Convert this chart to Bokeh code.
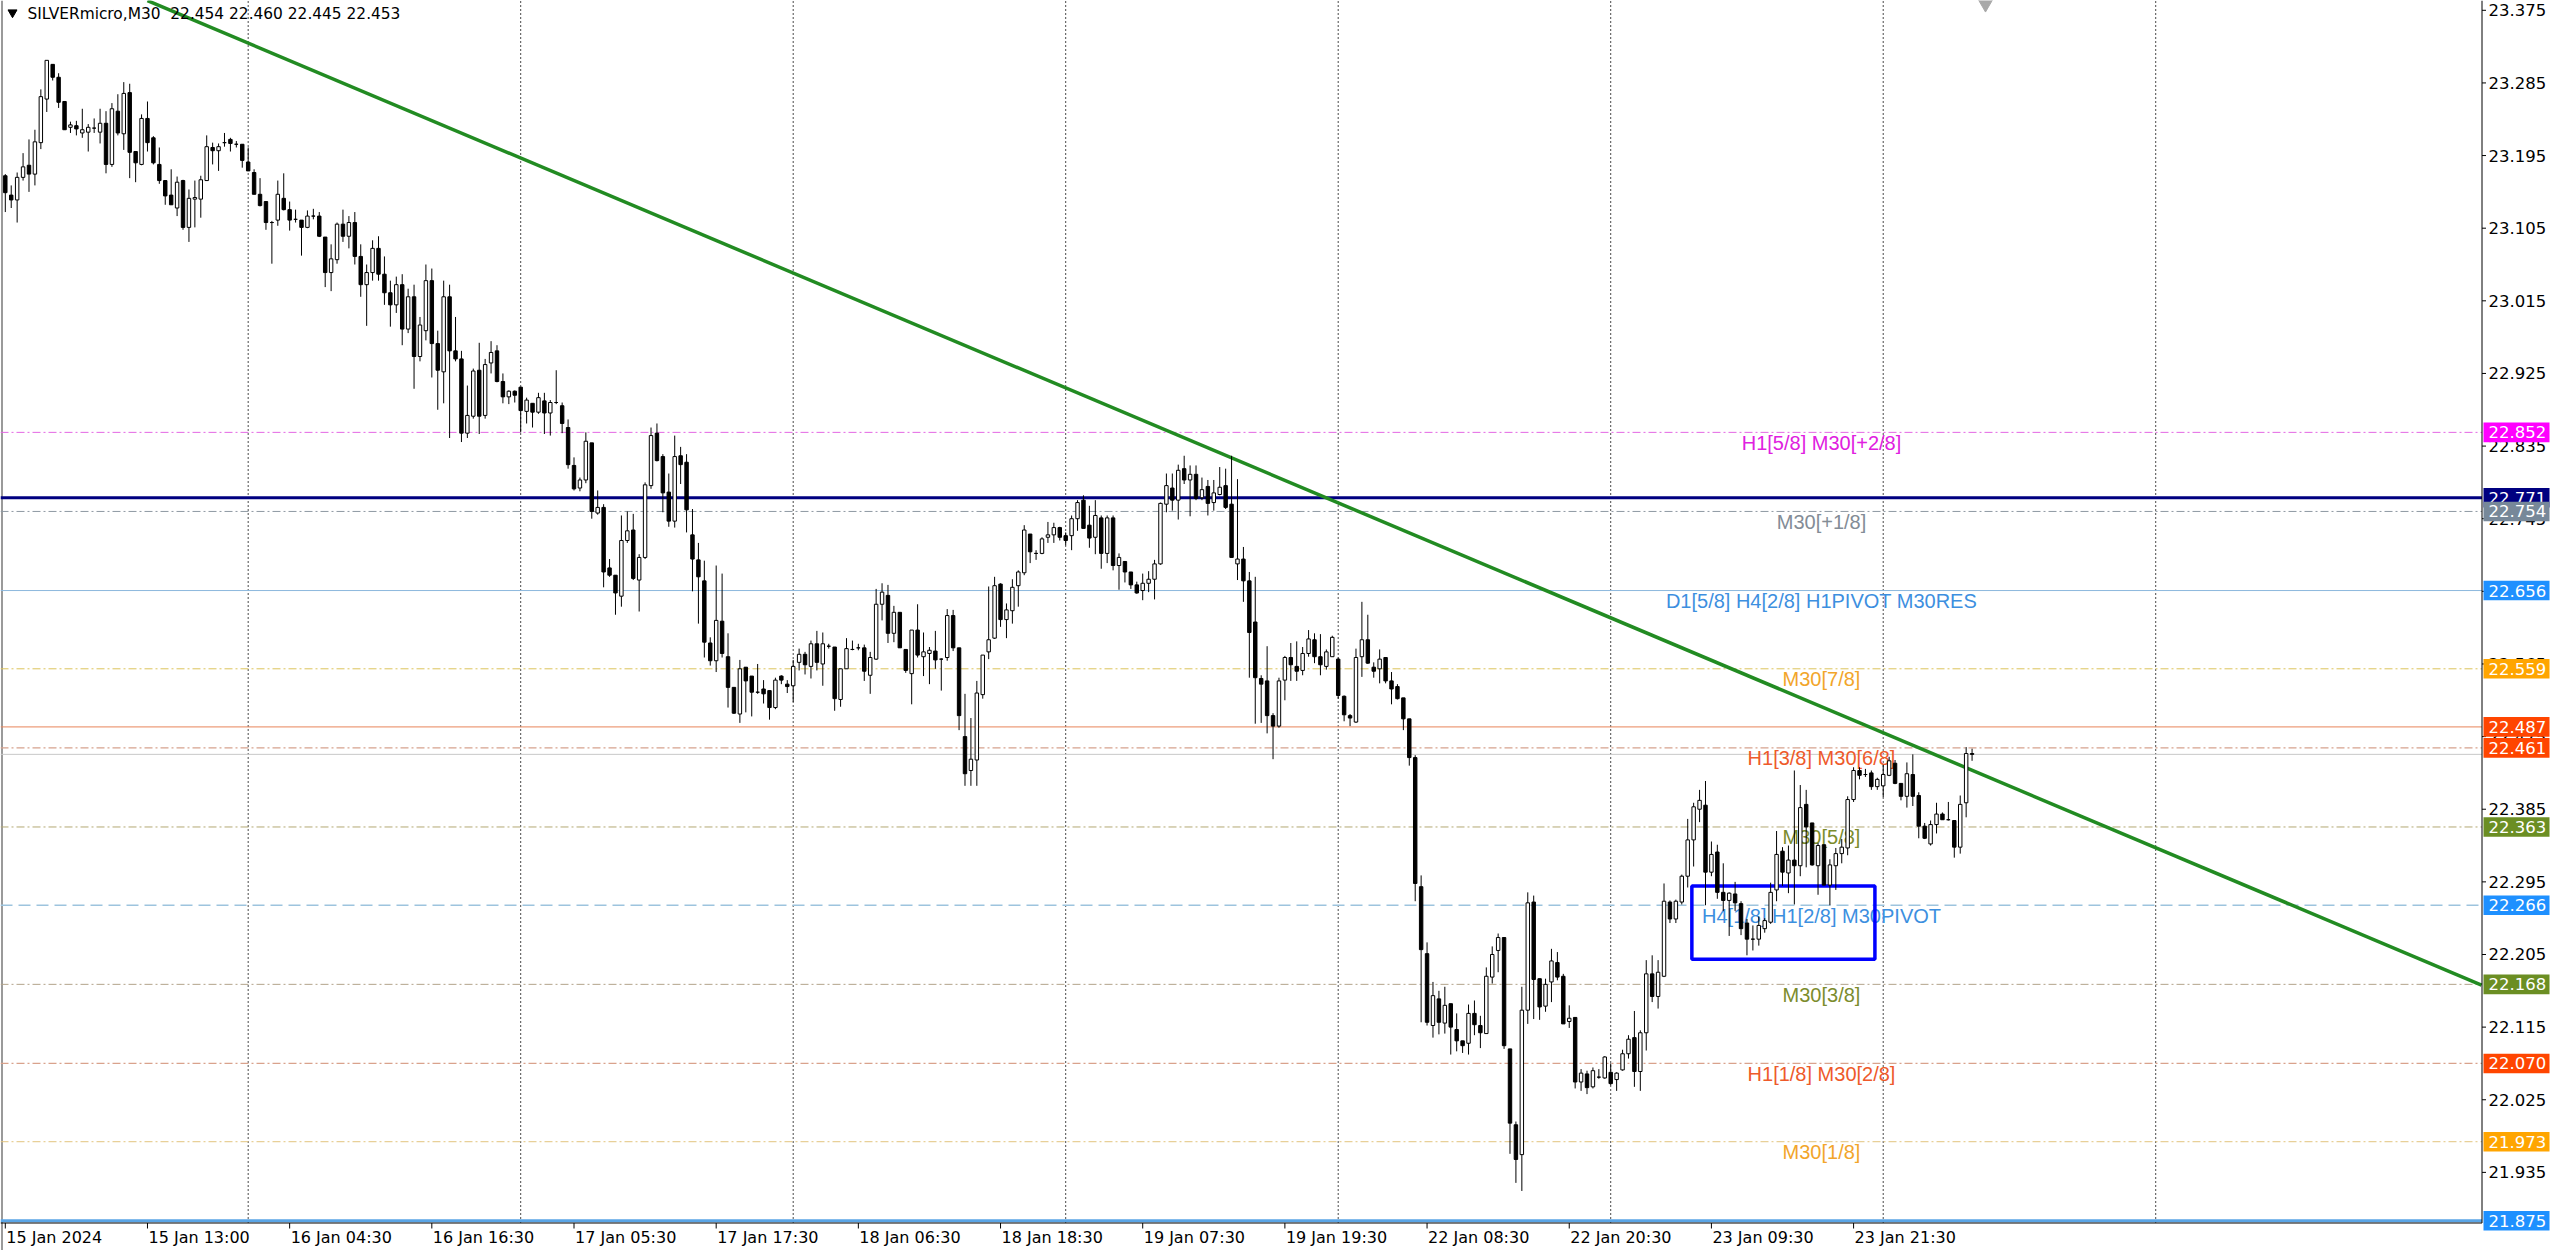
from bokeh.plotting import figure
from bokeh.models import Range1d, ColumnDataSource
from bokeh.core.properties import value
from bokeh.embed import file_html
from bokeh.resources import INLINE

# ---------------- data (SILVERmicro, M30) ----------------
opens = [23.170, 23.146, 23.140, 23.168, 23.183, 23.172, 23.211, 23.265, 23.308, 23.292,
         23.262, 23.230, 23.232, 23.223, 23.224, 23.229, 23.224, 23.235, 23.184, 23.250,
         23.222, 23.273, 23.200, 23.184, 23.241, 23.217, 23.184, 23.164, 23.146, 23.130,
         23.164, 23.106, 23.141, 23.141, 23.164, 23.205, 23.201, 23.211, 23.215, 23.209,
         23.209, 23.187, 23.174, 23.147, 23.138, 23.112, 23.115, 23.142, 23.128, 23.116,
         23.115, 23.106, 23.120, 23.120, 23.094, 23.050, 23.066, 23.110, 23.095, 23.112,
         23.070, 23.035, 23.050, 23.080, 23.048, 23.025, 23.010, 23.035, 22.980, 23.020,
         22.946, 22.978, 23.040, 22.962, 22.927, 23.020, 22.953, 22.943, 22.851, 22.872,
         22.929, 22.873, 22.938, 22.953, 22.915, 22.896, 22.903, 22.908, 22.878, 22.888,
         22.877, 22.891, 22.876, 22.889, 22.885, 22.858, 22.811, 22.783, 22.793, 22.839,
         22.752, 22.759, 22.684, 22.675, 22.649, 22.718, 22.731, 22.669, 22.697, 22.786,
         22.851, 22.822, 22.778, 22.742, 22.823, 22.815, 22.725, 22.694, 22.668, 22.591,
         22.569, 22.618, 22.574, 22.536, 22.503, 22.561, 22.550, 22.530, 22.534, 22.532,
         22.511, 22.550, 22.540, 22.538, 22.567, 22.577, 22.562, 22.590, 22.565, 22.587,
         22.586, 22.521, 22.559, 22.583, 22.585, 22.585, 22.551, 22.571, 22.639, 22.650,
         22.603, 22.629, 22.583, 22.553, 22.607, 22.574, 22.578, 22.581, 22.571, 22.573,
         22.625, 22.585, 22.475, 22.433, 22.446, 22.527, 22.580, 22.597, 22.664, 22.620,
         22.631, 22.662, 22.678, 22.726, 22.702, 22.702, 22.722, 22.725, 22.734, 22.724,
         22.724, 22.745, 22.768, 22.737, 22.722, 22.746, 22.702, 22.746, 22.687, 22.692,
         22.679, 22.663, 22.656, 22.665, 22.670, 22.689, 22.763, 22.783, 22.768, 22.807,
         22.793, 22.800, 22.771, 22.785, 22.765, 22.775, 22.786, 22.763, 22.689, 22.695,
         22.668, 22.617, 22.547, 22.544, 22.501, 22.488, 22.545, 22.573, 22.562, 22.557,
         22.578, 22.595, 22.574, 22.562, 22.574, 22.571, 22.525, 22.501, 22.493, 22.574,
         22.595, 22.561, 22.559, 22.573, 22.544, 22.537, 22.523, 22.497, 22.449, 22.289,
         22.206, 22.117, 22.150, 22.120, 22.144, 22.112, 22.098, 22.095, 22.132, 22.117,
         22.107, 22.177, 22.210, 22.226, 22.088, 21.994, 21.957, 22.136, 22.270, 22.175,
         22.141, 22.171, 22.195, 22.178, 22.122, 22.127, 22.047, 22.057, 22.041, 22.053,
         22.052, 22.059, 22.050, 22.062, 22.082, 22.102, 22.060, 22.108, 22.181, 22.153,
         22.178, 22.270, 22.249, 22.270, 22.302, 22.347, 22.385, 22.390, 22.307, 22.332,
         22.282, 22.272, 22.280, 22.268, 22.244, 22.224, 22.224, 22.237, 22.245, 22.285,
         22.333, 22.306, 22.322, 22.315, 22.391, 22.368, 22.315, 22.341, 22.291, 22.315,
         22.330, 22.337, 22.397, 22.433, 22.428, 22.430, 22.413, 22.414, 22.427, 22.442,
         22.417, 22.401, 22.428, 22.402, 22.364, 22.342, 22.366, 22.379, 22.372, 22.371,
         22.338, 22.393, 22.454]
highs = [23.172, 23.158, 23.174, 23.198, 23.215, 23.227, 23.277, 23.313, 23.308, 23.297,
         23.262, 23.237, 23.238, 23.253, 23.234, 23.241, 23.253, 23.250, 23.260, 23.271,
         23.286, 23.284, 23.200, 23.246, 23.262, 23.219, 23.205, 23.164, 23.178, 23.169,
         23.165, 23.153, 23.164, 23.170, 23.220, 23.211, 23.210, 23.223, 23.217, 23.213,
         23.209, 23.205, 23.178, 23.167, 23.138, 23.114, 23.164, 23.173, 23.138, 23.128,
         23.115, 23.127, 23.129, 23.125, 23.094, 23.085, 23.112, 23.128, 23.120, 23.125,
         23.085, 23.060, 23.090, 23.095, 23.070, 23.040, 23.045, 23.048, 23.030, 23.035,
         22.995, 23.060, 23.055, 22.978, 23.040, 23.035, 22.995, 22.953, 22.910, 22.931,
         22.963, 22.943, 22.965, 22.960, 22.925, 22.904, 22.904, 22.908, 22.895, 22.888,
         22.901, 22.901, 22.892, 22.929, 22.889, 22.868, 22.821, 22.796, 22.852, 22.839,
         22.780, 22.763, 22.695, 22.675, 22.749, 22.754, 22.751, 22.701, 22.790, 22.858,
         22.863, 22.825, 22.801, 22.848, 22.834, 22.825, 22.757, 22.715, 22.693, 22.598,
         22.687, 22.677, 22.603, 22.536, 22.570, 22.561, 22.550, 22.565, 22.545, 22.532,
         22.548, 22.551, 22.545, 22.570, 22.584, 22.580, 22.594, 22.606, 22.604, 22.590,
         22.586, 22.559, 22.597, 22.594, 22.590, 22.589, 22.580, 22.658, 22.665, 22.663,
         22.637, 22.629, 22.583, 22.607, 22.639, 22.604, 22.586, 22.606, 22.572, 22.633,
         22.632, 22.585, 22.528, 22.498, 22.544, 22.576, 22.661, 22.673, 22.665, 22.640,
         22.670, 22.681, 22.737, 22.726, 22.706, 22.722, 22.741, 22.740, 22.735, 22.728,
         22.749, 22.768, 22.774, 22.761, 22.768, 22.749, 22.749, 22.749, 22.702, 22.692,
         22.679, 22.667, 22.677, 22.680, 22.694, 22.765, 22.801, 22.801, 22.812, 22.823,
         22.811, 22.811, 22.796, 22.793, 22.793, 22.809, 22.807, 22.823, 22.794, 22.710,
         22.679, 22.673, 22.551, 22.587, 22.504, 22.548, 22.575, 22.591, 22.593, 22.586,
         22.607, 22.603, 22.602, 22.583, 22.600, 22.573, 22.526, 22.503, 22.584, 22.642,
         22.626, 22.567, 22.583, 22.573, 22.555, 22.540, 22.523, 22.497, 22.452, 22.303,
         22.220, 22.171, 22.160, 22.165, 22.144, 22.132, 22.098, 22.143, 22.148, 22.129,
         22.189, 22.215, 22.231, 22.226, 22.088, 21.998, 22.165, 22.282, 22.278, 22.175,
         22.175, 22.212, 22.208, 22.181, 22.142, 22.127, 22.063, 22.061, 22.065, 22.063,
         22.079, 22.070, 22.059, 22.087, 22.105, 22.135, 22.111, 22.198, 22.204, 22.198,
         22.293, 22.272, 22.273, 22.304, 22.373, 22.393, 22.409, 22.420, 22.345, 22.341,
         22.318, 22.282, 22.295, 22.271, 22.249, 22.241, 22.252, 22.250, 22.294, 22.358,
         22.338, 22.340, 22.433, 22.415, 22.409, 22.368, 22.343, 22.341, 22.323, 22.337,
         22.348, 22.401, 22.437, 22.437, 22.435, 22.433, 22.424, 22.440, 22.450, 22.446,
         22.417, 22.443, 22.453, 22.406, 22.368, 22.371, 22.393, 22.381, 22.394, 22.371,
         22.402, 22.462, 22.460]
lows = [23.125, 23.130, 23.112, 23.164, 23.150, 23.158, 23.203, 23.249, 23.288, 23.254,
        23.227, 23.223, 23.220, 23.217, 23.200, 23.223, 23.210, 23.173, 23.181, 23.220,
        23.202, 23.167, 23.162, 23.183, 23.200, 23.184, 23.160, 23.134, 23.134, 23.120,
        23.103, 23.088, 23.106, 23.118, 23.164, 23.184, 23.176, 23.206, 23.200, 23.205,
        23.180, 23.176, 23.147, 23.132, 23.103, 23.061, 23.108, 23.127, 23.102, 23.112,
        23.071, 23.105, 23.116, 23.094, 23.032, 23.027, 23.061, 23.088, 23.080, 23.060,
        23.020, 22.984, 23.040, 23.040, 23.010, 22.983, 23.000, 22.960, 22.975, 22.906,
        22.940, 22.966, 22.920, 22.880, 22.888, 22.845, 22.940, 22.840, 22.845, 22.869,
        22.850, 22.869, 22.925, 22.914, 22.888, 22.887, 22.889, 22.852, 22.863, 22.858,
        22.875, 22.850, 22.848, 22.887, 22.851, 22.807, 22.780, 22.779, 22.789, 22.745,
        22.750, 22.660, 22.673, 22.626, 22.636, 22.715, 22.669, 22.630, 22.695, 22.782,
        22.816, 22.753, 22.735, 22.734, 22.788, 22.728, 22.655, 22.615, 22.573, 22.563,
        22.555, 22.573, 22.511, 22.503, 22.492, 22.505, 22.500, 22.528, 22.516, 22.496,
        22.509, 22.540, 22.529, 22.518, 22.557, 22.552, 22.547, 22.557, 22.538, 22.584,
        22.507, 22.512, 22.559, 22.582, 22.582, 22.544, 22.528, 22.570, 22.619, 22.591,
        22.592, 22.585, 22.554, 22.515, 22.573, 22.550, 22.540, 22.559, 22.532, 22.569,
        22.581, 22.483, 22.414, 22.414, 22.414, 22.522, 22.571, 22.596, 22.611, 22.597,
        22.615, 22.636, 22.675, 22.690, 22.694, 22.701, 22.715, 22.715, 22.718, 22.712,
        22.706, 22.730, 22.733, 22.709, 22.701, 22.683, 22.690, 22.681, 22.657, 22.666,
        22.658, 22.652, 22.644, 22.654, 22.645, 22.688, 22.753, 22.755, 22.744, 22.788,
        22.748, 22.768, 22.768, 22.749, 22.755, 22.774, 22.757, 22.697, 22.669, 22.642,
        22.548, 22.491, 22.492, 22.479, 22.447, 22.486, 22.520, 22.544, 22.544, 22.551,
        22.574, 22.566, 22.551, 22.558, 22.574, 22.522, 22.494, 22.488, 22.492, 22.549,
        22.565, 22.548, 22.541, 22.541, 22.515, 22.521, 22.483, 22.439, 22.271, 22.121,
        22.117, 22.102, 22.106, 22.107, 22.081, 22.085, 22.083, 22.081, 22.105, 22.089,
        22.107, 22.169, 22.183, 22.088, 21.958, 21.922, 21.912, 22.119, 22.125, 22.124,
        22.134, 22.146, 22.173, 22.119, 22.114, 22.039, 22.036, 22.032, 22.039, 22.051,
        22.051, 22.043, 22.036, 22.061, 22.076, 22.041, 22.036, 22.086, 22.146, 22.138,
        22.177, 22.244, 22.244, 22.267, 22.288, 22.314, 22.369, 22.266, 22.302, 22.274,
        22.259, 22.228, 22.259, 22.229, 22.204, 22.210, 22.216, 22.232, 22.243, 22.271,
        22.290, 22.281, 22.267, 22.302, 22.313, 22.315, 22.279, 22.291, 22.266, 22.285,
        22.318, 22.328, 22.394, 22.422, 22.425, 22.409, 22.409, 22.400, 22.426, 22.416,
        22.396, 22.387, 22.389, 22.349, 22.348, 22.340, 22.355, 22.372, 22.371, 22.325,
        22.330, 22.375, 22.445]
closes = [23.149, 23.140, 23.168, 23.181, 23.172, 23.212, 23.268, 23.313, 23.292, 23.261,
          23.227, 23.233, 23.228, 23.227, 23.230, 23.229, 23.235, 23.184, 23.253, 23.223,
          23.272, 23.199, 23.186, 23.241, 23.211, 23.186, 23.164, 23.145, 23.134, 23.162,
          23.106, 23.142, 23.143, 23.165, 23.206, 23.201, 23.206, 23.211, 23.210, 23.209,
          23.189, 23.176, 23.147, 23.133, 23.112, 23.112, 23.147, 23.128, 23.115, 23.116,
          23.106, 23.120, 23.120, 23.095, 23.050, 23.067, 23.110, 23.095, 23.112, 23.070,
          23.035, 23.050, 23.080, 23.048, 23.025, 23.010, 23.035, 22.980, 23.020, 22.946,
          22.985, 23.040, 22.962, 22.929, 23.020, 22.953, 22.943, 22.851, 22.873, 22.928,
          22.872, 22.936, 22.951, 22.915, 22.896, 22.903, 22.898, 22.879, 22.892, 22.877,
          22.895, 22.876, 22.889, 22.889, 22.863, 22.812, 22.782, 22.793, 22.841, 22.754,
          22.759, 22.679, 22.675, 22.653, 22.718, 22.730, 22.671, 22.697, 22.787, 22.848,
          22.817, 22.777, 22.742, 22.822, 22.812, 22.756, 22.695, 22.673, 22.592, 22.569,
          22.619, 22.578, 22.536, 22.504, 22.559, 22.544, 22.530, 22.530, 22.528, 22.511,
          22.545, 22.545, 22.537, 22.562, 22.577, 22.564, 22.590, 22.567, 22.590, 22.587,
          22.522, 22.559, 22.584, 22.583, 22.585, 22.556, 22.573, 22.639, 22.654, 22.603,
          22.629, 22.585, 22.557, 22.607, 22.576, 22.580, 22.582, 22.570, 22.571, 22.625,
          22.585, 22.501, 22.429, 22.447, 22.529, 22.576, 22.595, 22.662, 22.620, 22.632,
          22.660, 22.679, 22.731, 22.704, 22.702, 22.720, 22.725, 22.734, 22.722, 22.718,
          22.745, 22.765, 22.733, 22.721, 22.749, 22.702, 22.746, 22.687, 22.697, 22.679,
          22.663, 22.653, 22.665, 22.670, 22.689, 22.764, 22.786, 22.768, 22.805, 22.793,
          22.800, 22.770, 22.781, 22.764, 22.777, 22.784, 22.759, 22.697, 22.695, 22.668,
          22.604, 22.548, 22.540, 22.501, 22.488, 22.544, 22.573, 22.564, 22.556, 22.578,
          22.596, 22.574, 22.564, 22.580, 22.598, 22.526, 22.502, 22.498, 22.573, 22.595,
          22.566, 22.556, 22.571, 22.544, 22.534, 22.522, 22.497, 22.449, 22.293, 22.211,
          22.121, 22.154, 22.121, 22.142, 22.115, 22.098, 22.092, 22.132, 22.118, 22.108,
          22.178, 22.205, 22.226, 22.092, 21.996, 21.951, 22.136, 22.269, 22.174, 22.140,
          22.168, 22.197, 22.177, 22.119, 22.126, 22.047, 22.058, 22.040, 22.061, 22.053,
          22.078, 22.045, 22.058, 22.082, 22.100, 22.060, 22.108, 22.181, 22.153, 22.183,
          22.271, 22.249, 22.271, 22.302, 22.347, 22.388, 22.396, 22.307, 22.329, 22.282,
          22.272, 22.281, 22.269, 22.237, 22.224, 22.224, 22.241, 22.247, 22.282, 22.329,
          22.307, 22.322, 22.315, 22.387, 22.363, 22.316, 22.340, 22.291, 22.316, 22.330,
          22.338, 22.397, 22.433, 22.427, 22.428, 22.413, 22.422, 22.428, 22.445, 22.417,
          22.401, 22.429, 22.401, 22.364, 22.349, 22.366, 22.379, 22.372, 22.372, 22.338,
          22.391, 22.454, 22.453]

time_tick_bars = [0, 24, 48, 72, 96, 120, 144, 168, 192, 216, 240, 264, 288, 312]
time_tick_labels = ["15 Jan 2024", "15 Jan 13:00", "16 Jan 04:30", "16 Jan 16:30",
                    "17 Jan 05:30", "17 Jan 17:30", "18 Jan 06:30", "18 Jan 18:30",
                    "19 Jan 07:30", "19 Jan 19:30", "22 Jan 08:30", "22 Jan 20:30",
                    "23 Jan 09:30", "23 Jan 21:30"]
day_start_bars = [41, 87, 133, 179, 225, 271, 317, 363]
price_ticks = [23.375, 23.285, 23.195, 23.105, 23.015, 22.925, 22.835, 22.745, 22.655,
               22.565, 22.475, 22.385, 22.295, 22.205, 22.115, 22.025, 21.935]

level_prices = [22.852, 22.771, 22.754, 22.656, 22.559, 22.487, 22.461, 22.363,
                22.266, 22.168, 22.070, 21.973, 21.875]
level_names = ["H1[5/8] M30[+2/8]", "", "M30[+1/8]", "D1[5/8] H4[2/8] H1PIVOT M30RES",
               "M30[7/8]", "", "H1[3/8] M30[6/8]", "M30[5/8]", "H4[1/8] H1[2/8] M30PIVOT",
               "M30[3/8]", "H1[1/8] M30[2/8]", "M30[1/8]", ""]

trend_bars = [24.0, 418.0]
trend_prices = [23.387, 22.167]
box_bars = [284.7, 315.6]
box_prices = [22.199, 22.290]

title_text = "SILVERmicro,M30\u00a0 22.454 22.460 22.445 22.453"

# ---------------- styles ----------------
DD = "8 3 2 3"
level_line_colors = ["#E466E4", "#000080", "#8E98A2", "#8DB8DD", "#DCC45A", "#E8855A",
                     "#D6A28E", "#B3A874", "#9DC4DE", "#B3A38B", "#D9A28C", "#E3C47E",
                     "#5AA5E6"]
level_line_widths = [1, 3, 1, 1, 1, 1, 1.3, 1, 1.5, 1, 1.3, 1, 3]
level_line_dashes = [DD, "solid", DD, "solid", DD, "solid", DD, DD, "12 6", DD, DD, DD, "solid"]
level_text_colors = ["#E020E0", None, "#838C96", "#3D8FDF", "#F2A52A", None, "#EE5A2A",
                     "#7C8C2C", "#3D8FDF", "#7C8C2C", "#EE5A2A", "#F2A52A", None]
level_box_colors = ["#FF00FF", "#000080", "#778899", "#1E90FF", "#FFA500", "#FF4500",
                    "#FF4500", "#6B8E23", "#1E90FF", "#6B8E23", "#FF4500", "#FFA500",
                    "#1E90FF"]
UI_FONT = value("DejaVu Sans")
AXIS_FS = "16.5px"
TIME_FS = "16px"
TITLE_FS = "15.4px"

# ---------------- geometry: the frame covers the whole page ----------------
W, H = 2560, 1250
BAR0_PX = 4.8          # pixel of bar 0
BAR_PX = 5.924         # pixels per bar
PRICE_PX = 807.0       # pixels per price unit
PRICE_AT_PX = 23.375   # price of the tick drawn at PRICE_AT_Y
PRICE_AT_Y = 9.8


def bx(px):            # screen x -> bar units
    return (px - BAR0_PX) / BAR_PX


def py(y):             # screen y -> price units
    return PRICE_AT_PX - (y - PRICE_AT_Y) / PRICE_PX


XS, XE = bx(0), bx(W)
YHI, YLO = py(0), py(H)
X_AX = bx(2481.5)      # right edge of the chart area (price axis line)
Y_BOT = py(1222.5)     # bottom edge of the chart area (time axis line)

p = figure(width=W, height=H, x_range=Range1d(XS, XE), y_range=Range1d(YLO, YHI),
           output_backend="svg", toolbar_location=None,
           x_axis_location=None, y_axis_location=None,
           min_border_left=0, min_border_right=0, min_border_top=0, min_border_bottom=0)
p.background_fill_color = "white"
p.border_fill_color = "white"
p.outline_line_color = None
p.xgrid.visible = False
p.ygrid.visible = False

# window edge
p.segment(x0=[bx(1.5)], y0=[YLO], x1=[bx(1.5)], y1=[YHI], line_color="#9A9A9A", line_width=2)

# vertical day grid
p.segment(x0=day_start_bars, y0=[Y_BOT] * len(day_start_bars), x1=day_start_bars,
          y1=[YHI] * len(day_start_bars), line_color="#4A4A4A", line_width=1, line_dash="2 2")

# level lines
for pr, col, lw, ld in zip(level_prices, level_line_colors, level_line_widths, level_line_dashes):
    p.segment(x0=[XS], y0=[pr], x1=[X_AX], y1=[pr], line_color=col, line_width=lw, line_dash=ld)
# bid line
p.segment(x0=[XS], y0=[closes[-1]], x1=[X_AX], y1=[closes[-1]], line_color="#C8C8C8", line_width=1)

# level texts (behind the bars)
lab_x, lab_y, lab_t, lab_c = [], [], [], []
for pr, name, col in zip(level_prices, level_names, level_text_colors):
    if name:
        lab_x.append(bx(1821))
        lab_y.append(pr - 10.5 / PRICE_PX)
        lab_t.append(name)
        lab_c.append(col)
p.text(x="x", y="y", text="t", text_color="c",
       source=ColumnDataSource(dict(x=lab_x, y=lab_y, t=lab_t, c=lab_c)),
       text_font=value("Liberation Sans"), text_font_size="20px",
       text_align="center", text_baseline="middle")

# trend line and rectangle
p.line(x=trend_bars, y=trend_prices, line_color="#228B22", line_width=3.5)
p.quad(left=[box_bars[0]], right=[box_bars[1]], bottom=[box_prices[0]], top=[box_prices[1]],
       fill_color=None, line_color="#0000FF", line_width=3.5)

# candles
idx = list(range(len(closes)))
src = ColumnDataSource(dict(
    x=idx, h=highs, l=lows,
    top=[max(a, b) for a, b in zip(opens, closes)],
    bottom=[min(a, b) for a, b in zip(opens, closes)],
    fill=["white" if c >= o else "black" for o, c in zip(opens, closes)]))
p.segment(x0="x", y0="l", x1="x", y1="h", source=src, line_color="black", line_width=1)
p.vbar(x="x", width=0.58, top="top", bottom="bottom", fill_color="fill",
       line_color="black", line_width=1, source=src)

# shift marker at the top
p.scatter(x=[bx(1985)], y=[YHI], marker="inverted_triangle", size=20,
          fill_color="#A8A8A8", line_color="#A8A8A8")

# axis lines
p.segment(x0=[X_AX], y0=[Y_BOT], x1=[X_AX], y1=[YHI], line_color="black", line_width=1)
p.segment(x0=[XS], y0=[Y_BOT], x1=[X_AX], y1=[Y_BOT], line_color="black", line_width=1)

# time axis ticks and labels (left aligned at their tick)
p.segment(x0=time_tick_bars, y0=[Y_BOT] * len(time_tick_bars), x1=time_tick_bars,
          y1=[Y_BOT - 5.5 / PRICE_PX] * len(time_tick_bars), line_color="black", line_width=1)
p.text(x=[max(b, XS) + 1.0 / BAR_PX for b in time_tick_bars],
       y=[py(1237)] * len(time_tick_bars), text=time_tick_labels,
       text_font=UI_FONT, text_font_size=TIME_FS, text_color="black",
       text_align="left", text_baseline="middle")

# price axis ticks and labels
p.segment(x0=[X_AX] * len(price_ticks), y0=price_ticks,
          x1=[X_AX + 4.0 / BAR_PX] * len(price_ticks), y1=price_ticks,
          line_color="black", line_width=1)
p.text(x=[bx(2488)] * len(price_ticks), y=price_ticks,
       text=[f"{t:.3f}" for t in price_ticks],
       text_font=UI_FONT, text_font_size=AXIS_FS, text_color="black",
       text_align="left", text_baseline="middle")

# title
p.scatter(x=[bx(12)], y=[py(12)], marker="inverted_triangle", size=9, color="black")
p.text(x=[bx(27)], y=[py(13)], text=[title_text], text_font=UI_FONT,
       text_font_size=TITLE_FS, text_color="black", text_align="left", text_baseline="middle")

# price boxes on the axis
for pr, bc in zip(level_prices, level_box_colors):
    p.quad(left=[bx(2483)], right=[bx(2549)], bottom=[pr - 9.8 / PRICE_PX],
           top=[pr + 9.8 / PRICE_PX], fill_color=bc, line_color=None)
    p.text(x=[bx(2488)], y=[pr], text=[f"{pr:.3f}"], text_font=UI_FONT,
           text_font_size=AXIS_FS, text_color="white", text_align="left",
           text_baseline="middle")

open("out.html", "w").write(file_html(p, INLINE))
